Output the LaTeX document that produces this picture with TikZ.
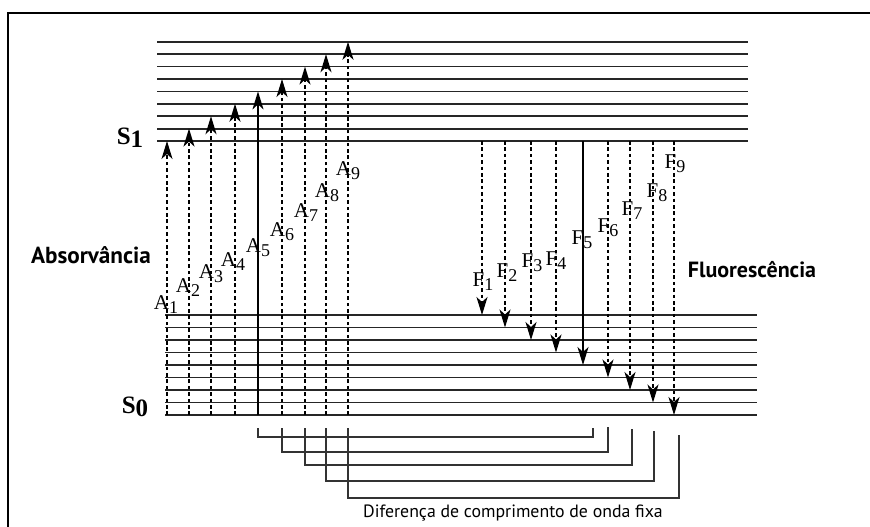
\documentclass[tikz,border=0pt]{standalone}
\usepackage{fontspec}
\setmainfont{Liberation Serif}
\newfontfamily\labelsans{PT Sans}
\usetikzlibrary{arrows.meta}

% lowered index after a transition or state letter
\newcommand\lowidx[2]{\raisebox{-#1}{#2}}

\begin{document}
\begin{tikzpicture}[x=1pt,y=-1pt,
  level/.style={line width=1.8pt, draw=black!85},
  transition/.style={line width=1.5pt, draw=black,
    -{Stealth[length=18pt,width=11pt,inset=5pt]}},
  weak/.style={transition, dash pattern=on 3.6pt off 2.8pt},
  bracketline/.style={line width=1.3pt, draw=black!80},
  translabel/.style={font=\fontsize{21}{21}\selectfont, inner sep=0pt},
  statelabel/.style={font=\fontsize{25}{25}\selectfont\bfseries, inner sep=0pt},
  sidelabel/.style={font=\labelsans\bfseries\fontsize{22}{22}\selectfont, inner sep=0pt},
  notelabel/.style={font=\labelsans\fontsize{17.8}{18}\selectfont, inner sep=0pt}
]
\useasboundingbox (0,0) rectangle (870,527);

% outer frame
\draw[line width=1.8pt] (8,527) -- (8,13) -- (870,13);

% vibrational levels of S1 (top) and S0 (bottom)
\foreach \k in {1,...,9} {
  \coordinate (s1-\k) at (0,{141-(\k-1)*12.4});
  \coordinate (s0-\k) at (0,{315+(\k-1)*12.5});
  \draw[level] (157,{141-(\k-1)*12.4}) -- (748,{141-(\k-1)*12.4});
  \draw[level] (165,{315+(\k-1)*12.5}) -- (757,{315+(\k-1)*12.5});
}

% state labels
\node[statelabel] (S1) at (130,138) {S\lowidx{3pt}{1}};
\node[statelabel] (S0) at (135,407) {S\lowidx{3pt}{0}};

% absorption (up) and fluorescence (down) transitions
\foreach \k/\ax/\fx/\sty in {1/167/482/weak, 2/189/505/weak, 3/211/531/weak,
    4/235/556/weak, 5/258/583/transition, 6/282/608/weak, 7/305/630/weak,
    8/326/653/weak, 9/348/674/weak} {
  \coordinate (ab\k) at (\ax,415);
  \coordinate (at\k) at (\ax,{141-(\k-1)*12.4});
  \coordinate (ft\k) at (\fx,141);
  \coordinate (fb\k) at (\fx,{315+(\k-1)*12.5});
  \coordinate (bk\k) at (\ax,428);
  \draw[\sty] (ab\k) -- (at\k);
  \draw[\sty] (ft\k) -- (fb\k);
}

% transition labels
\foreach \k/\px/\py in {1/166/305, 2/188/288, 3/211/274, 4/233/262, 5/258/248,
    6/282/232, 7/306/213, 8/327/193, 9/348/171} {
  \node[translabel] (A\k) at (\px,\py)
    {A\lowidx{4pt}{\fontsize{18}{18}\selectfont\k}};
}
\foreach \k/\px/\py in {1/483/282, 2/507/273, 3/532/263, 4/556/261, 5/582/240,
    6/608/228, 7/632/211, 8/657/193, 9/675/164} {
  \node[translabel] (F\k) at (\px,\py)
    {F\lowidx{4pt}{\fontsize{18}{18}\selectfont\k}};
}

% fixed wavelength-offset brackets
\foreach \k/\ly/\rx/\ry in {5/437/593/428, 6/452/608/427, 7/465/632/429,
    8/481/654/431, 9/498/679/435} {
  \coordinate (bc\k) at (\rx,\ly);
  \coordinate (br\k) at (\rx,\ry);
  \draw[bracketline] (bk\k) |- (bc\k) -- (br\k);
}

% side and bottom labels
\node[sidelabel, font=\labelsans\bfseries\fontsize{23.2}{23}\selectfont] (absorb) at (91,255) {Absorvância};
\node[sidelabel] (fluor) at (752,270) {Fluorescência};
\node[notelabel] (offset) at (513,513) {Diferença de comprimento de onda fixa};
\end{tikzpicture}
\end{document}
